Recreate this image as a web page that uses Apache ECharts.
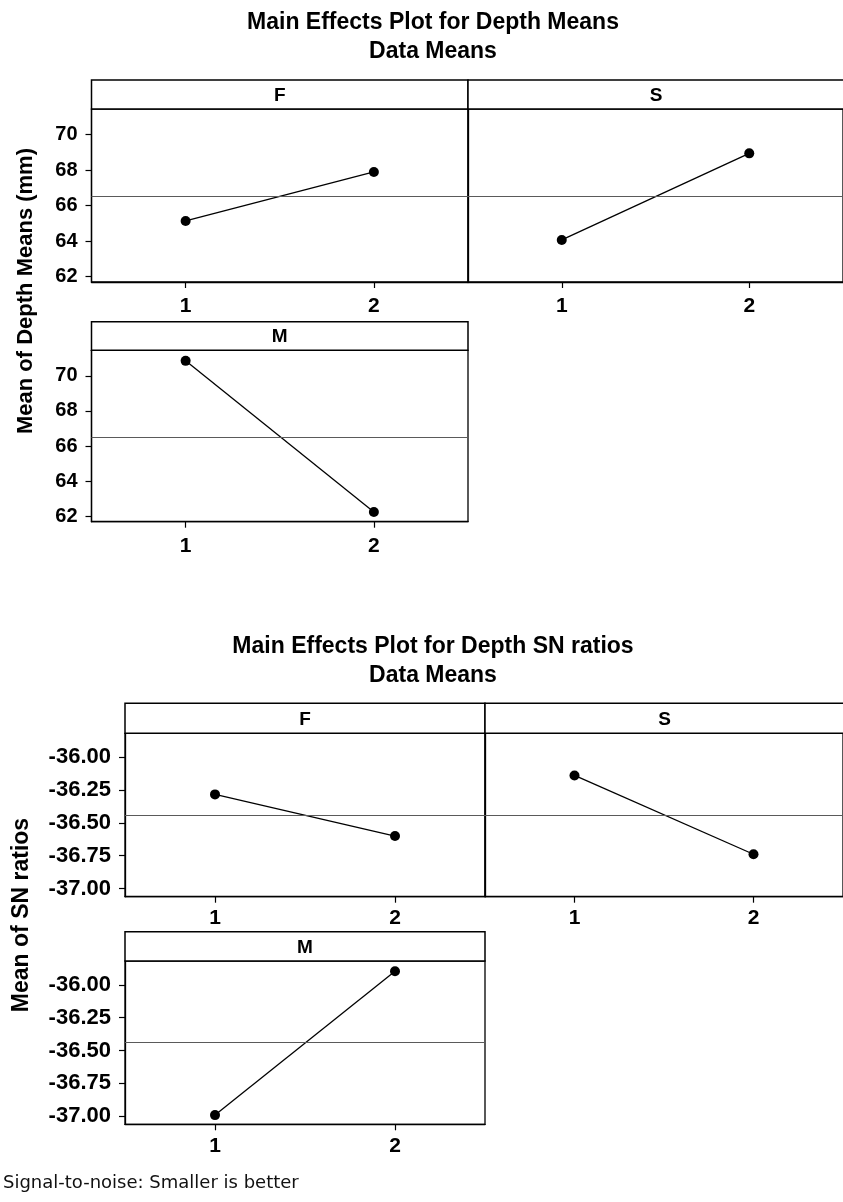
<!DOCTYPE html>
<html>
<head>
<meta charset="utf-8">
<script src="https://cdn.jsdelivr.net/npm/echarts@6/dist/echarts.min.js"></script>
<style>
html,body{margin:0;padding:0;background:#fff;}
#chart{width:843px;height:1202px;}
</style>
</head>
<body>
<div id="chart"></div>
<script>
// ---- data ----
const xLevels = [1, 2];
const factors = ['F', 'S', 'M'];
const depthF = [65.14, 67.90];
const depthS = [64.07, 68.95];
const depthM = [70.85, 62.25];
const snF = [-36.283, -36.600];
const snS = [-36.139, -36.739];
const snM = [-36.992, -35.896];
const depthTicks = [62, 64, 66, 68, 70];
const snTicks = [-37.00, -36.75, -36.50, -36.25, -36.00];
const title1 = 'Main Effects Plot for Depth Means\nData Means';
const title2 = 'Main Effects Plot for Depth SN ratios\nData Means';
const yName1 = 'Mean of Depth Means (mm)';
const yName2 = 'Mean of SN ratios';
const footnote = 'Signal-to-noise: Smaller is better';

// ---- layout ----
const FONT = '"Liberation Sans", Arial, Helvetica, sans-serif';
const groups = [
  {
    values: [depthF, depthS, depthM], ticks: depthTicks, min: 61.70, max: 71.45,
    fmt: v => String(v), ySize: 20, xSize: 21, xMargin: 14,
    panels: [
      {left: 91.5, top: 109, width: 376.5, height: 173, hTop: 80, yLabels: true},
      {left: 468, top: 109, width: 376, height: 173, hTop: 80, yLabels: false},
      {left: 91.5, top: 350.3, width: 376.5, height: 171.4, hTop: 321.7, yLabels: true}
    ]
  },
  {
    values: [snF, snS, snM], ticks: snTicks, min: -37.062, max: -35.818,
    fmt: v => v.toFixed(2), ySize: 22, xSize: 21, xMargin: 11,
    panels: [
      {left: 125, top: 733.3, width: 360, height: 163.4, hTop: 703.3, yLabels: true},
      {left: 485, top: 733.3, width: 359, height: 163.4, hTop: 703.3, yLabels: false},
      {left: 125, top: 961, width: 360, height: 163.3, hTop: 931.7, yLabels: true}
    ]
  }
];

const grids = [], xAxes = [], yAxes = [], series = [], graphics = [];
let gi = 0;
groups.forEach(g => {
  const all = [].concat(...g.values);
  const grand = all.reduce((a, b) => a + b, 0) / all.length;
  g.panels.forEach((p, k) => {
    grids.push({left: p.left, top: p.top, width: p.width, height: p.height,
      show: true, borderColor: '#000', borderWidth: 1.3, backgroundColor: '#fff', containLabel: false});
    xAxes.push({
      type: 'value', gridIndex: gi, min: 0.5, max: 2.5,
      axisLine: {show: true, lineStyle: {color: '#000', width: 1.3}},
      axisTick: {show: true, customValues: xLevels, length: 6, lineStyle: {color: '#000', width: 1.2}},
      axisLabel: {show: true, customValues: xLevels, color: '#000', fontWeight: 'bold',
        fontSize: g.xSize, fontFamily: FONT, margin: g.xMargin, formatter: v => String(v)},
      splitLine: {show: false}
    });
    yAxes.push({
      type: 'value', gridIndex: gi, min: g.min, max: g.max,
      axisLine: {show: true, lineStyle: {color: '#000', width: 1.3}},
      axisTick: {show: p.yLabels, customValues: g.ticks, length: 6, lineStyle: {color: '#000', width: 1.2}},
      axisLabel: {show: p.yLabels, customValues: g.ticks, color: '#000', fontWeight: 'bold',
        fontSize: g.ySize, fontFamily: FONT, margin: 14, formatter: g.fmt},
      splitLine: {show: false}
    });
    series.push({
      type: 'line', xAxisIndex: gi, yAxisIndex: gi,
      data: xLevels.map((x, i) => [x, g.values[k][i]]),
      symbol: 'circle', symbolSize: 10,
      itemStyle: {color: '#000'},
      lineStyle: {color: '#000', width: 1.3},
      silent: true,
      markLine: {
        silent: true, symbol: 'none', label: {show: false},
        lineStyle: {color: '#5a5a5a', width: 1.2, type: 'solid'},
        data: [{yAxis: grand}]
      }
    });
    const hH = p.top - p.hTop;
    graphics.push({
      type: 'rect', shape: {x: p.left, y: p.hTop, width: p.width, height: hH},
      style: {fill: '#fff', stroke: '#000', lineWidth: 1.5}, z: 10
    });
    graphics.push({
      type: 'text', x: p.left + p.width / 2, y: p.hTop + hH / 2 + 1, z: 11,
      style: {text: factors[k], font: 'bold 19px ' + FONT, fill: '#000',
        align: 'center', verticalAlign: 'middle', textAlign: 'center', textVerticalAlign: 'middle'}
    });
    gi++;
  });
});

// y-axis names
graphics.push({
  type: 'text', x: 26, y: 291, rotation: Math.PI / 2, z: 11,
  style: {text: yName1, font: 'bold 22px ' + FONT, fill: '#000',
    align: 'center', verticalAlign: 'middle', textAlign: 'center', textVerticalAlign: 'middle'}
});
graphics.push({
  type: 'text', x: 22, y: 915, rotation: Math.PI / 2, z: 11,
  style: {text: yName2, font: 'bold 23px ' + FONT, fill: '#000',
    align: 'center', verticalAlign: 'middle', textAlign: 'center', textVerticalAlign: 'middle'}
});
// footnote
graphics.push({
  type: 'text', x: 3, y: 1183, z: 11,
  style: {text: footnote, font: '18px "DejaVu Sans", Verdana, sans-serif', fill: '#111',
    align: 'left', verticalAlign: 'middle', textAlign: 'left', textVerticalAlign: 'middle'}
});

const option = {
  animation: false,
  backgroundColor: '#fff',
  title: [
    {text: title1, left: 433, top: 8, textAlign: 'center', padding: 0,
      textStyle: {fontSize: 23, fontWeight: 'bold', fontFamily: FONT, color: '#000', lineHeight: 29}},
    {text: title2, left: 433, top: 632.5, textAlign: 'center', padding: 0,
      textStyle: {fontSize: 23, fontWeight: 'bold', fontFamily: FONT, color: '#000', lineHeight: 29}}
  ],
  grid: grids,
  xAxis: xAxes,
  yAxis: yAxes,
  series: series,
  graphic: graphics
};

const chart = echarts.init(document.getElementById('chart'), null, {renderer: 'canvas'});
chart.setOption(option);
</script>
</body>
</html>
